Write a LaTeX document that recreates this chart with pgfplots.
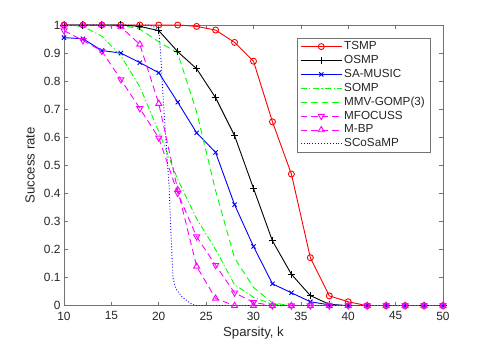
\documentclass[border=0pt]{standalone}
\usepackage{fontspec}
\setmainfont{Liberation Sans}
\usepackage{pgfplots}
\pgfplotsset{compat=1.18}
\definecolor{axgray}{gray}{0.45}
\definecolor{txtgray}{gray}{0.15}
\definecolor{mred}{rgb}{1,0,0}
\definecolor{mgreen}{rgb}{0,1,0}
\definecolor{mblue}{rgb}{0,0,1}
\definecolor{mmag}{rgb}{1,0,1}
\begin{document}
\begin{tikzpicture}
\begin{axis}[
    scale only axis, width=379pt, height=280.7pt,
    xmin=10, xmax=50, ymin=0, ymax=1,
    xtick={10,15,...,50},
    ytick={0,0.1,...,1.0},
    yticklabels={0,0.1,0.2,0.3,0.4,0.5,0.6,0.7,0.8,0.9,1},
    tick align=inside, major tick length=3.8pt,
    axis line style={axgray, line width=0.6pt},
    tick style={axgray, line width=0.6pt},
    /pgf/number format/assume math mode=true,
    tick label style={font=\fontsize{11.9}{14}\selectfont, text=txtgray},
    x tick label style={yshift=-2.5pt},
    label style={font=\fontsize{13.2}{15}\selectfont, text=txtgray},
    xlabel={Sparsity, k}, ylabel={Success rate},
    xlabel style={at={(axis description cs:0.5,-0.0962)}, anchor=center},
    ylabel style={at={(axis description cs:-0.0897,0.5)}, anchor=center},
    legend cell align=left,
    legend style={at={(0.9657,0.9548)}, anchor=north east, draw=axgray,
        font=\fontsize{11.7}{14}\selectfont, text=txtgray,
        nodes={inner ysep=1.2pt, inner xsep=2pt, text height=8.5pt, text depth=2.5pt},
        row sep=0.5pt, inner xsep=3pt, inner ysep=2pt},
    legend image code/.code={\draw[mark repeat=2,mark phase=2,#1]
        plot coordinates {(0cm,0cm) (0.72cm,0cm) (1.44cm,0cm)};},
    every axis plot/.append style={line width=0.9pt},
]
\addplot[mred, mark=o, mark size=3pt] coordinates {
 (10,1)(12,1)(14,1)(16,1)(18,1)(20,1)(22,1)(24,0.995)(26,0.982)(28,0.938)(30,0.871)
 (32,0.655)(34,0.469)(36,0.171)(38,0.035)(40,0.014)(42,0)(44,0)(46,0)(48,0)(50,0)};
\addlegendentry{TSMP}
\addplot[black, mark=+, mark size=3.6pt] coordinates {
 (10,1)(12,1)(14,1)(16,1)(18,0.995)(20,0.98)(22,0.905)(24,0.844)(26,0.741)(28,0.606)
 (30,0.418)(32,0.231)(34,0.112)(36,0.036)(38,0.005)(40,0)(42,0)(44,0)(46,0)(48,0)(50,0)};
\addlegendentry{OSMP}
\addplot[mblue, mark=x, mark size=3pt] coordinates {
 (10,0.955)(12,0.951)(14,0.909)(16,0.9)(18,0.866)(20,0.83)(22,0.725)(24,0.616)(26,0.546)
 (28,0.36)(30,0.211)(32,0.078)(34,0.046)(36,0.014)(38,0.003)(40,0)(42,0)(44,0)(46,0)(48,0)(50,0)};
\addlegendentry{SA-MUSIC}
\addplot[mgreen, dash pattern=on 6pt off 2.5pt on 1.2pt off 2.5pt] coordinates {
 (10,1)(12,0.995)(14,0.96)(16,0.89)(18,0.78)(20,0.62)(22,0.45)(24,0.31)(26,0.2)
 (28,0.075)(30,0.03)(32,0.005)(34,0)(50,0)};
\addlegendentry{SOMP}
\addplot[mgreen, dash pattern=on 6.5pt off 4pt] coordinates {
 (10,1)(12,1)(14,1)(16,1)(18,0.985)(20,0.94)(22,0.9)(24,0.69)(26,0.41)(28,0.17)
 (30,0.065)(32,0.01)(34,0)(50,0)};
\addlegendentry{MMV-GOMP(3)}
\addplot[mmag, dash pattern=on 6.5pt off 4pt, mark=triangle, mark size=3.5pt,
    mark options={solid, rotate=180}] coordinates {
 (10,0.98)(12,0.945)(14,0.907)(16,0.806)(18,0.703)(20,0.598)(22,0.401)(24,0.246)(26,0.144)
 (28,0.046)(30,0.012)(32,0)(34,0)(36,0)(38,0)(40,0)(42,0)(44,0)(46,0)(48,0)(50,0)};
\addlegendentry{MFOCUSS}
\addplot[mmag, dash pattern=on 6.5pt off 4pt, mark=triangle, mark size=3.5pt,
    mark options={solid}] coordinates {
 (10,1)(12,1)(14,1)(16,0.993)(18,0.931)(20,0.72)(22,0.413)(24,0.14)(26,0.026)
 (28,0)(30,0)(32,0)(34,0)(36,0)(38,0)(40,0)(42,0)(44,0)(46,0)(48,0)(50,0)};
\addlegendentry{M-BP}
\addplot[mblue, dash pattern=on 0.9pt off 2pt] coordinates {
 (10,1)(14,1)(18,1)(19,1)(20,0.985)(20.2,0.9)(20.5,0.72)(20.8,0.57)(21.1,0.42)(21.3,0.25)
 (21.5,0.1)(21.8,0.06)(22.5,0.03)(23.5,0.005)(24,0)(50,0)};
\addlegendentry{SCoSaMP}
\end{axis}
\pgfresetboundingbox
\path[use as bounding box] (current axis.south west) ++(-64pt,-42.3pt)
    rectangle ([xshift=47pt,yshift=25pt]current axis.north east);
\end{tikzpicture}
\end{document}
